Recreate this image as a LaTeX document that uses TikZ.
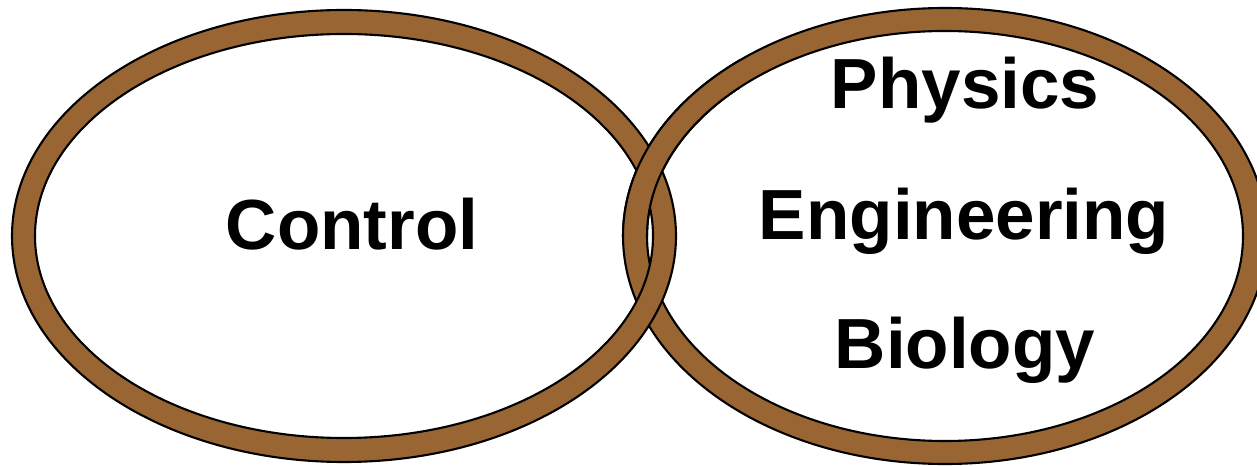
\documentclass[tikz,border=0pt]{standalone}
\usepackage{fontspec}
\setmainfont{Liberation Sans}
\usepackage{tikz}
\usetikzlibrary{positioning}

\definecolor{ringbrown}{RGB}{153,102,51}

\begin{document}
\begin{tikzpicture}[
	ring/.style={fill=ringbrown, draw=black, line width=0.6pt, even odd rule},
	lbl/.style={font=\fontsize{20.2}{24}\selectfont\bfseries, anchor=base, inner sep=0pt},
	]
	\useasboundingbox (0,0) rectangle (12.57,4.65);

	% right ring first, left ring over it
	\path[ring] (9.45,2.29) ellipse [x radius=3.22, y radius=2.28]
		(9.45,2.29) ellipse [x radius=2.98, y radius=2.05];
	\path[ring] (3.44,2.29) ellipse [x radius=3.32, y radius=2.26]
		(3.44,2.29) ellipse [x radius=3.09, y radius=2.02];
	% upper crossing: right ring on top again
	\begin{scope}
		\clip (5.6,2.29) rectangle (7.4,4.65);
		\path[ring] (9.45,2.29) ellipse [x radius=3.22, y radius=2.28]
			(9.45,2.29) ellipse [x radius=2.98, y radius=2.05];
	\end{scope}

	\node[lbl] (ctl) at (3.52,2.15) {Control};
	\node[lbl] (eng) at (9.64,2.25) {Engineering};
	\node[lbl] (phys) at (9.65,3.56) {Physics};
	\node[lbl] (bio) at (9.65,0.97) {Biology};
\end{tikzpicture}
\end{document}
